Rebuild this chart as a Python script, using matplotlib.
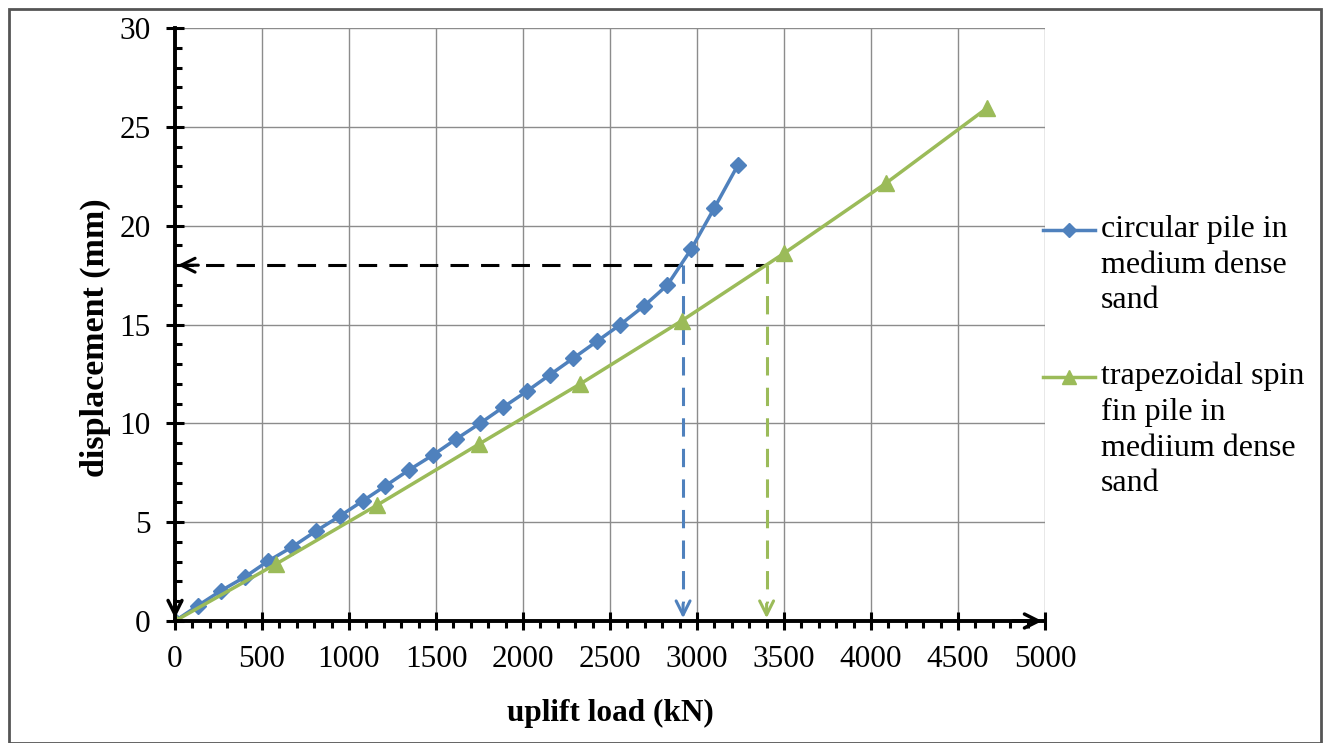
import matplotlib.pyplot as plt
from matplotlib.lines import Line2D
from matplotlib.patches import Rectangle
from matplotlib.ticker import MultipleLocator

plt.rcParams['font.family'] = ['Liberation Serif', 'DejaVu Serif']

# circular pile in medium dense sand
circ_load = [0, 132, 262, 402, 535, 672, 810, 948, 1078, 1208, 1345, 1483, 1615,
             1753, 1887, 2023, 2157, 2290, 2425, 2560, 2697, 2830, 2966, 3100, 3236]
circ_disp = [0, 0.78, 1.52, 2.23, 3.03, 3.74, 4.55, 5.31, 6.07, 6.83, 7.64, 8.4, 9.2,
             10.0, 10.82, 11.63, 12.47, 13.3, 14.15, 15.0, 15.95, 17.0, 18.8, 20.9, 23.08]

# trapezoidal spin fin pile in medium dense sand
trap_load = [0, 580, 1163, 1747, 2330, 2914, 3500, 4086, 4667]
trap_disp = [0, 2.88, 5.87, 8.95, 12.0, 15.2, 18.6, 22.15, 25.95]

target_disp = 18
circ_at_target = 2920
trap_at_target = 3400

blue = '#4F81BD'
green = '#9BBB59'

fig = plt.figure(figsize=(13.23, 7.43), dpi=100)
ax = fig.add_axes([175 / 1323, 1 - 621 / 743, 870 / 1323, 593 / 743])

ax.plot(circ_load, circ_disp, color=blue, lw=2.5, marker='D', ms=8.5, zorder=4)
ax.plot(trap_load, trap_disp, color=green, lw=2.5, marker='^', ms=11, zorder=4)

# reading lines at 18 mm
ax.plot([0, trap_at_target], [target_disp, target_disp], color='black', lw=2.2,
        dashes=(6, 4), zorder=3)
ax.annotate('', xy=(0, target_disp), xytext=(150, target_disp),
            arrowprops=dict(arrowstyle='->', color='black', lw=2.2, mutation_scale=25), zorder=5)
for xv, col in [(circ_at_target, blue), (trap_at_target, green)]:
    ax.plot([xv, xv], [target_disp, 0.9], color=col, lw=2.2, dashes=(6, 4), zorder=3)
    ax.annotate('', xy=(xv, 0), xytext=(xv, 1.0),
                arrowprops=dict(arrowstyle='->', color=col, lw=2.2, mutation_scale=25), zorder=5)

# axis arrows
ax.annotate('', xy=(5000, 0), xytext=(4800, 0), annotation_clip=False,
            arrowprops=dict(arrowstyle='->', color='black', lw=2.5, mutation_scale=25), zorder=6)
ax.annotate('', xy=(0, 0), xytext=(0, 1.2), annotation_clip=False,
            arrowprops=dict(arrowstyle='->', color='black', lw=2.5, mutation_scale=25), zorder=6)

ax.set_xlim(0, 5000)
ax.set_ylim(0, 30)
ax.xaxis.set_major_locator(MultipleLocator(500))
ax.xaxis.set_minor_locator(MultipleLocator(100))
ax.yaxis.set_major_locator(MultipleLocator(5))
ax.yaxis.set_minor_locator(MultipleLocator(1))
ax.grid(True, which='major', color='#8c8c8c', lw=1)
ax.set_axisbelow(True)

for side in ['top', 'right']:
    ax.spines[side].set_visible(False)
for side in ['left', 'bottom']:
    ax.spines[side].set_linewidth(2.8)
    ax.spines[side].set_zorder(5)

ax.tick_params(which='major', direction='inout', length=13, width=2.2, labelsize=22.5, pad=11)
ax.tick_params(axis='x', which='minor', direction='out', length=5, width=2.2)
ax.tick_params(axis='y', which='minor', direction='in', length=5, width=2.2)
ax.tick_params(axis='y', which='major', pad=11)

ax.set_xlabel('uplift load (kN)', fontsize=22.5, fontweight='bold', labelpad=18)
ax.set_ylabel('displacement (mm)', fontsize=24.5, fontweight='bold', labelpad=6)
ax.yaxis.label.set_y((621 - 338) / 593)

# legend drawn at the right side
labels = ['circular pile in\nmedium dense\nsand', 'trapezoidal spin\nfin pile in\nmediium dense\nsand']
styles = [(blue, 'D', 7.5), (green, '^', 10)]
rows = [230, 377]
for lab, (col, mk, ms), yp in zip(labels, styles, rows):
    yf = 1 - yp / 743
    fig.add_artist(Line2D([1043 / 1323, 1069 / 1323, 1095 / 1323], [yf, yf, yf],
                          transform=fig.transFigure, color=col, lw=2.5,
                          marker=mk, ms=ms, markevery=[1]))
    fig.text(1101 / 1323, 1 - (yp - 15) / 743, lab, fontsize=23, va='top', ha='left',
             linespacing=1.3)

fig.add_artist(Rectangle((9 / 1323, 0), 1312 / 1323, 1 - 9 / 743, transform=fig.transFigure,
                         fill=False, edgecolor='#555555', lw=2))

fig.savefig('out.png', dpi=100)
